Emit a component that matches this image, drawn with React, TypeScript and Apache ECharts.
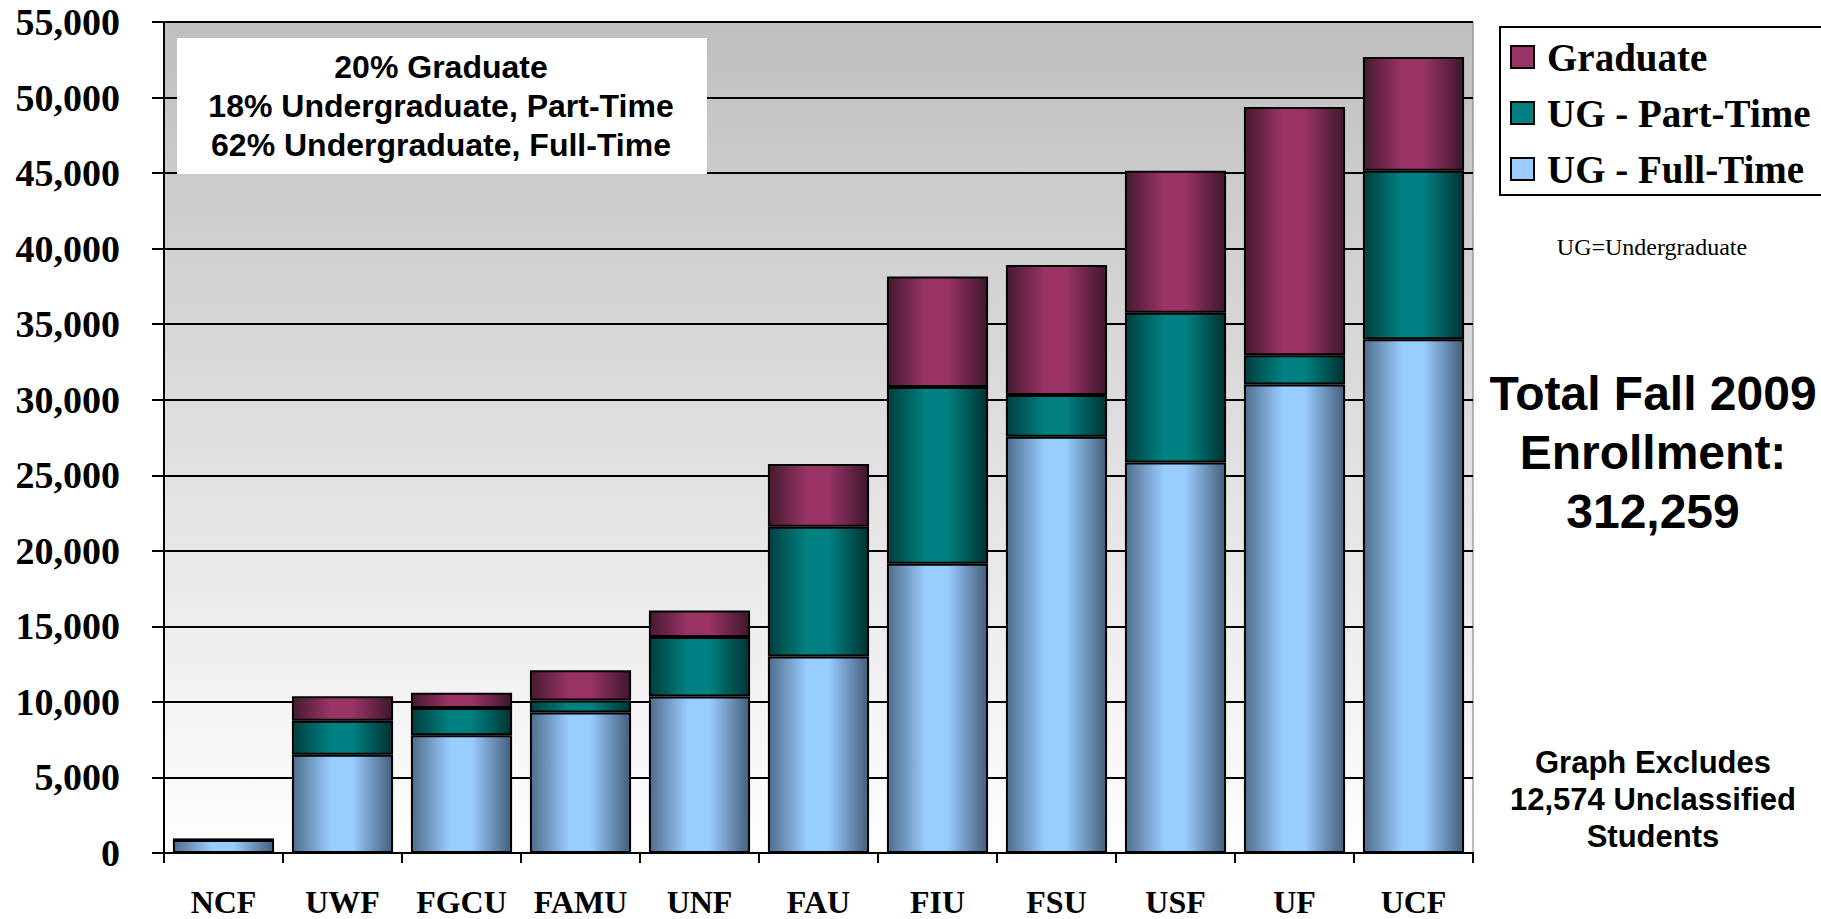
import React, { useEffect, useRef } from "react";
import * as echarts from "echarts";

const categories = ["NCF", "UWF", "FGCU", "FAMU", "UNF", "FAU", "FIU", "FSU", "USF", "UF", "UCF"];
const fullTime = [860, 6500, 7800, 9300, 10350, 13000, 19150, 27550, 25850, 31000, 34000];
const partTime = [40, 2250, 1800, 800, 3950, 8600, 11700, 2770, 9900, 1950, 11150];
const graduate = [0, 1630, 1000, 2000, 1750, 4150, 7300, 8600, 9400, 16430, 7540];
const seriesNames = ["UG - Full-Time", "UG - Part-Time", "Graduate"];
const noteLines = ["20% Graduate", "18% Undergraduate, Part-Time", "62% Undergraduate, Full-Time"];
const totalLines = ["Total Fall 2009", "Enrollment:", "312,259"];
const excludeLines = ["Graph Excludes", "12,574 Unclassified", "Students"];

const hGrad = (dark: string, mid: string, right: string) =>
  new echarts.graphic.LinearGradient(0, 0, 1, 0, [
    { offset: 0, color: dark },
    { offset: 0.38, color: mid },
    { offset: 0.6, color: mid },
    { offset: 1, color: right },
  ]);

export default function App() {
  const ref = useRef<HTMLDivElement>(null);
  useEffect(() => {
    if (!ref.current) return;
    const chart = echarts.init(ref.current, undefined, { renderer: "svg" });
    const serif = "Liberation Serif";
    const sans = "Liberation Sans";
    const colors = {
      ft: { solid: "#99CCFF", g: hGrad("#4f6d8c", "#99CCFF", "#455f7c") },
      pt: { solid: "#008080", g: hGrad("#003f3f", "#008080", "#003333") },
      gr: { solid: "#993366", g: hGrad("#451a30", "#993366", "#3f172c") },
    };
    const barStyle = (g: any) => ({ color: g, borderColor: "#000", borderWidth: 2 });
    const legendIcon = (c: string) => ({ color: c, borderColor: "#000", borderWidth: 2 });
    chart.setOption({
      animation: false,
      backgroundColor: "#ffffff",
      grid: {
        left: 164,
        right: 348,
        top: 22,
        bottom: 66,
        show: true,
        borderColor: "#777",
        borderWidth: 1,
        backgroundColor: new echarts.graphic.LinearGradient(0, 0, 0, 1, [
          { offset: 0, color: "#bfbfbf" },
          { offset: 1, color: "#ffffff" },
        ]),
      },
      legend: {
        orient: "vertical",
        left: 1500,
        top: 27,
        padding: [10, 40, 6, 10],
        itemGap: 16,
        itemWidth: 23,
        itemHeight: 22,
        borderColor: "#000",
        borderWidth: 2,
        backgroundColor: "#fff",
        icon: "rect",
        textStyle: {
          fontFamily: serif,
          fontWeight: "bold",
          fontSize: 39,
          lineHeight: 40,
          color: "#000",
          padding: [0, 0, 0, 8],
        },
        data: [
          { name: "Graduate", itemStyle: legendIcon(colors.gr.solid) },
          { name: "UG - Part-Time", itemStyle: legendIcon(colors.pt.solid) },
          { name: "UG - Full-Time", itemStyle: legendIcon(colors.ft.solid) },
        ],
      },
      xAxis: {
        type: "category",
        data: categories,
        axisLine: { lineStyle: { color: "#000", width: 2 } },
        axisTick: { show: true, interval: 0, length: 10, lineStyle: { color: "#000", width: 2 } },
        axisLabel: { interval: 0, fontFamily: serif, fontWeight: "bold", fontSize: 32, color: "#000", margin: 33 },
      },
      yAxis: {
        type: "value",
        min: 0,
        max: 55000,
        interval: 5000,
        axisLine: { show: true, lineStyle: { color: "#000", width: 2 } },
        axisTick: { show: true, length: 12, lineStyle: { color: "#000", width: 2 } },
        splitLine: { lineStyle: { color: "#000", width: 2 } },
        axisLabel: {
          fontFamily: serif,
          fontWeight: "bold",
          fontSize: 38,
          color: "#000",
          margin: 44,
          formatter: (v: number) => v.toLocaleString("en-US"),
        },
      },
      series: [
        { name: seriesNames[0], type: "bar", stack: "a", barWidth: "85%", data: fullTime, itemStyle: barStyle(colors.ft.g) },
        { name: seriesNames[1], type: "bar", stack: "a", data: partTime, itemStyle: barStyle(colors.pt.g) },
        { name: seriesNames[2], type: "bar", stack: "a", data: graduate, itemStyle: barStyle(colors.gr.g) },
      ],
      graphic: [
        {
          type: "rect",
          left: 177,
          top: 38,
          shape: { width: 529, height: 135 },
          style: { fill: "#fff", stroke: "#fff" },
          z: 10,
        },
        ...noteLines.map((t, i) => ({
          type: "text",
          x: 441,
          y: 67 + i * 39,
          z: 11,
          style: {
            text: t,
            fill: "#000",
            font: `bold 32px ${sans}`,
            textAlign: "center",
            textVerticalAlign: "middle",
          },
        })),
        {
          type: "text",
          x: 1652,
          y: 247,
          style: { text: "UG=Undergraduate", fill: "#000", font: `24px ${serif}`, textAlign: "center", textVerticalAlign: "middle" },
        },
        ...totalLines.map((t, i) => ({
          type: "text",
          x: 1653,
          y: 393 + i * 59,
          style: { text: t, fill: "#000", font: `bold 48px ${sans}`, textAlign: "center", textVerticalAlign: "middle" },
        })),
        ...excludeLines.map((t, i) => ({
          type: "text",
          x: 1653,
          y: 762 + i * 37,
          style: { text: t, fill: "#000", font: `bold 31px ${sans}`, textAlign: "center", textVerticalAlign: "middle" },
        })),
      ],
    });
    return () => chart.dispose();
  }, []);
  return <div ref={ref} style={{ position: "fixed", left: 0, top: 0, width: 1821, height: 919 }} />;
}
